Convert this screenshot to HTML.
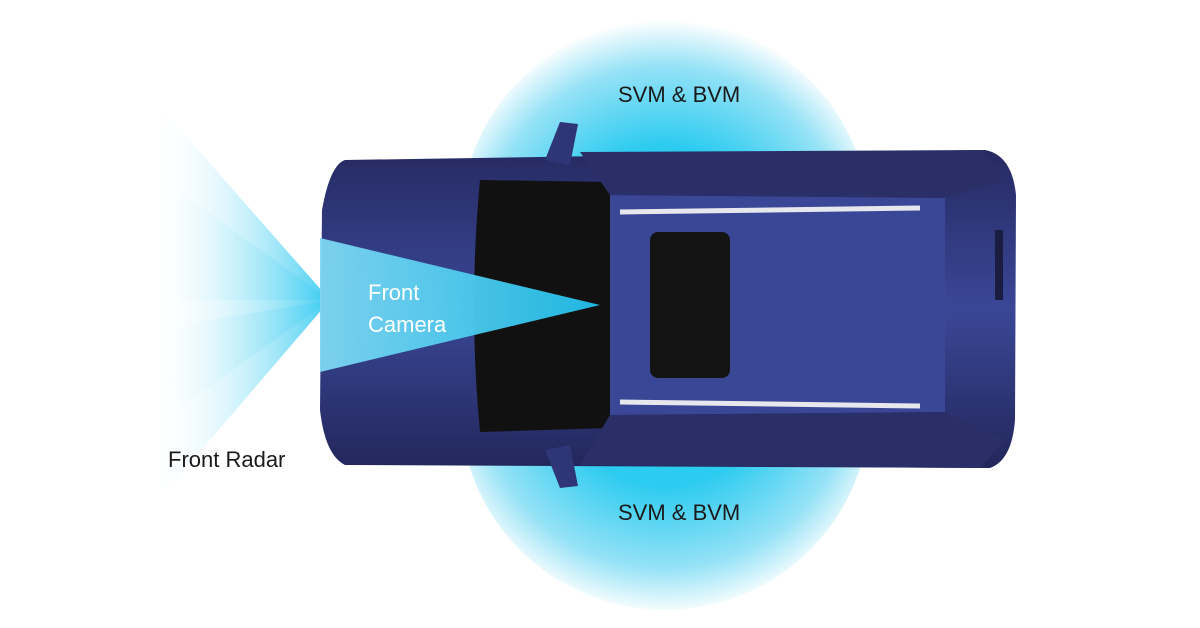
<!DOCTYPE html>
<html><head><meta charset="utf-8"><style>
html,body{margin:0;padding:0;background:#fff;}
svg{display:block}
text{font-family:"Liberation Sans",sans-serif;}
</style></head><body>
<svg width="1200" height="628" viewBox="0 0 1200 628" xmlns="http://www.w3.org/2000/svg">
<defs>
<radialGradient id="cT" cx="665" cy="250" r="230" gradientUnits="userSpaceOnUse">
<stop offset="0.45" stop-color="#2ccbf0"/><stop offset="0.8" stop-color="#95e2f6"/><stop offset="1" stop-color="#ffffff"/></radialGradient>
<radialGradient id="cB" cx="665" cy="380" r="235" gradientUnits="userSpaceOnUse">
<stop offset="0.45" stop-color="#2ccbf0"/><stop offset="0.8" stop-color="#95e2f6"/><stop offset="1" stop-color="#ffffff"/></radialGradient>
<linearGradient id="rad" x1="330" y1="0" x2="150" y2="0" gradientUnits="userSpaceOnUse">
<stop offset="0" stop-color="#2cc8f0"/><stop offset="1" stop-color="#ffffff" stop-opacity="0"/></linearGradient>
<linearGradient id="cam" x1="600" y1="0" x2="320" y2="0" gradientUnits="userSpaceOnUse">
<stop offset="0" stop-color="#20c0ec"/><stop offset="1" stop-color="#7fd8f2"/></linearGradient>
<linearGradient id="body" x1="0" y1="148" x2="0" y2="470" gradientUnits="userSpaceOnUse">
<stop offset="0" stop-color="#262a62"/><stop offset="0.5" stop-color="#3a4796"/><stop offset="1" stop-color="#22265a"/></linearGradient>
</defs>
<circle cx="665" cy="225" r="205" fill="url(#cT)"/>
<circle cx="665" cy="405" r="205" fill="url(#cB)"/>
<!-- radar fan -->
<polygon points="330,300 150,95 150,510" fill="url(#rad)" opacity="0.9"/>
<polygon points="330,300 150,170 150,300" fill="url(#rad)" opacity="0.4"/>
<polygon points="330,300 150,330 150,430" fill="url(#rad)" opacity="0.4"/>
<!-- car body -->
<path d="M345,160 Q330,165 322,210 L320,410 Q325,455 345,465 L990,468 Q1012,460 1015,420 L1016,195 Q1012,155 985,150 Z" fill="url(#body)"/>
<path d="M480,180 L610,182 L610,428 L480,432 Q468,305 480,180 Z" fill="#111"/>
<path d="M610,195 L945,198 L945,412 L610,415 Z" fill="#3a4797"/>
<rect x="650" y="232" width="80" height="146" rx="8" fill="#141414"/>
<path d="M620,212 L920,208" stroke="#e6e8ee" stroke-width="5"/>
<path d="M620,402 L920,406" stroke="#e6e8ee" stroke-width="5"/>
<path d="M580,152 L980,150 L1005,180 L945,198 L610,195 Z" fill="#2b2f68"/>
<path d="M580,465 L980,468 L1005,440 L945,412 L610,415 Z" fill="#2b2f68"/>
<path d="M545,160 L560,122 L578,124 L570,165 Z" fill="#2f3678"/>
<path d="M545,450 L560,488 L578,486 L570,445 Z" fill="#2f3678"/>
<rect x="995" y="230" width="8" height="70" fill="#1a1d40"/>
<!-- camera beam -->
<polygon points="600,305 320,238 320,372" fill="url(#cam)" opacity="0.95"/>
<text x="618" y="102" font-size="22" fill="#1a1a1a">SVM &amp; BVM</text>
<text x="618" y="520" font-size="22" fill="#1a1a1a">SVM &amp; BVM</text>
<text x="368" y="300" font-size="22" fill="#fff">Front</text>
<text x="368" y="332" font-size="22" fill="#fff">Camera</text>
<text x="168" y="467" font-size="22" fill="#1a1a1a">Front Radar</text>
</svg>
</body></html>
